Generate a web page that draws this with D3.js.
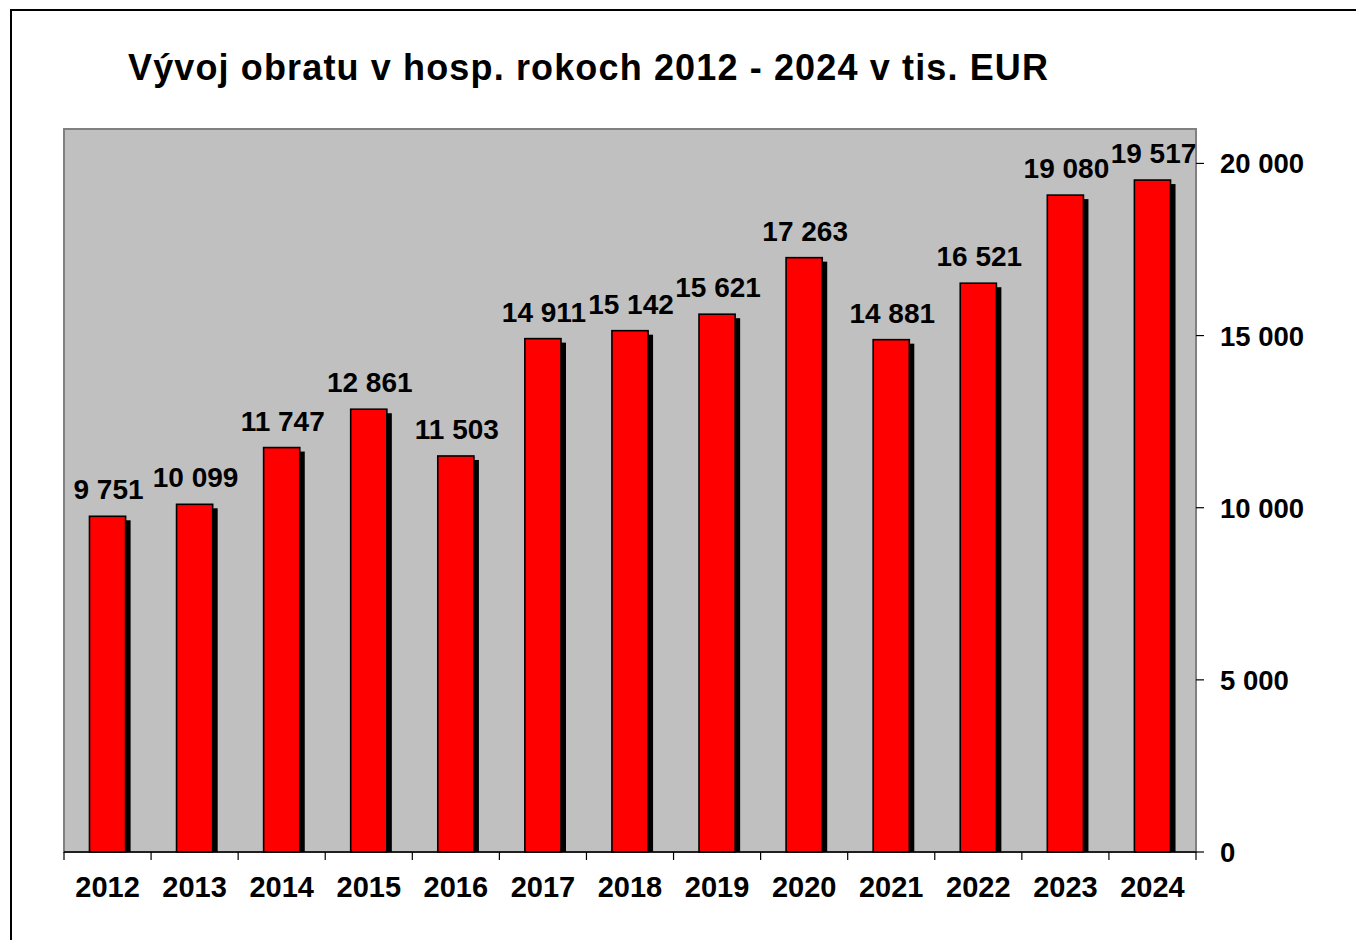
<!DOCTYPE html>
<html><head><meta charset="utf-8">
<script src="https://cdn.jsdelivr.net/npm/d3@7"></script>
<style>body{margin:0;background:#fff}svg{display:block}text{font-family:"Liberation Sans",Arial,sans-serif;font-weight:bold;fill:#000}</style>
</head><body>
<svg id="c" width="1356" height="940"></svg>
<script>
const title = "Vývoj obratu v hosp. rokoch 2012 - 2024 v tis. EUR";
const years = ["2012","2013","2014","2015","2016","2017","2018","2019","2020","2021","2022","2023","2024"];
const values = [9751,10099,11747,12861,11503,14911,15142,15621,17263,14881,16521,19080,19517];
const yTicks = [0,5000,10000,15000,20000];

const svg = d3.select("#c");
const L=64, R=1196, T=129, B=852;
const fmt = v => d3.format(",")(v).replace(/,/g," ");

svg.append("rect").attr("x",11).attr("y",10).attr("width",1400).attr("height",1000)
  .attr("fill","#fff").attr("stroke","#000").attr("stroke-width",2);

svg.append("text").attr("x",128).attr("y",80).attr("font-size",36)
  .attr("textLength",920).attr("lengthAdjust","spacing").text(title);

const x = d3.scaleBand().domain(years).range([L,R]).paddingInner(0.585).paddingOuter(0.2925);
const y = d3.scaleLinear().domain([0,21000]).range([B,T]);

svg.append("rect").attr("x",L).attr("y",T).attr("width",R-L).attr("height",B-T)
  .attr("fill","#c0c0c0").attr("stroke","#808080").attr("stroke-width",2);

const g = svg.append("g");
g.selectAll("rect.sh").data(values).join("rect").attr("class","sh")
  .attr("x",(d,i)=>x(years[i])+5).attr("y",d=>y(d)+4)
  .attr("width",x.bandwidth()).attr("height",d=>B-y(d)-4).attr("fill","#000");
g.selectAll("rect.bar").data(values).join("rect").attr("class","bar")
  .attr("x",(d,i)=>x(years[i])).attr("y",d=>y(d))
  .attr("width",x.bandwidth()).attr("height",d=>B-y(d))
  .attr("fill","#ff0000").attr("stroke","#000").attr("stroke-width",1.6);

g.selectAll("text.val").data(values).join("text").attr("class","val")
  .attr("x",(d,i)=>x(years[i])+x.bandwidth()/2+1).attr("y",d=>y(d)-17)
  .attr("text-anchor","middle").attr("font-size",28).text(d=>fmt(d));

svg.append("line").attr("x1",L).attr("x2",R).attr("y1",B).attr("y2",B).attr("stroke","#000").attr("stroke-width",1.5);
const step = x.step();
const bounds = d3.range(years.length+1).map(i=>L+i*step);
svg.selectAll("line.xt").data(bounds).join("line").attr("class","xt")
  .attr("x1",d=>d).attr("x2",d=>d).attr("y1",B).attr("y2",B+8).attr("stroke","#000").attr("stroke-width",1.2);
svg.selectAll("text.yr").data(years).join("text").attr("class","yr")
  .attr("x",d=>x(d)+x.bandwidth()/2).attr("y",897).attr("text-anchor","middle").attr("font-size",29).text(d=>d);

svg.selectAll("line.yt").data(yTicks).join("line").attr("class","yt")
  .attr("x1",R).attr("x2",R+8).attr("y1",d=>y(d)).attr("y2",d=>y(d)).attr("stroke","#000").attr("stroke-width",1.2);
svg.selectAll("text.ytl").data(yTicks).join("text").attr("class","ytl")
  .attr("x",1220).attr("y",d=>y(d)+10).attr("font-size",27.5).text(d=>fmt(d));
</script>
</body></html>
